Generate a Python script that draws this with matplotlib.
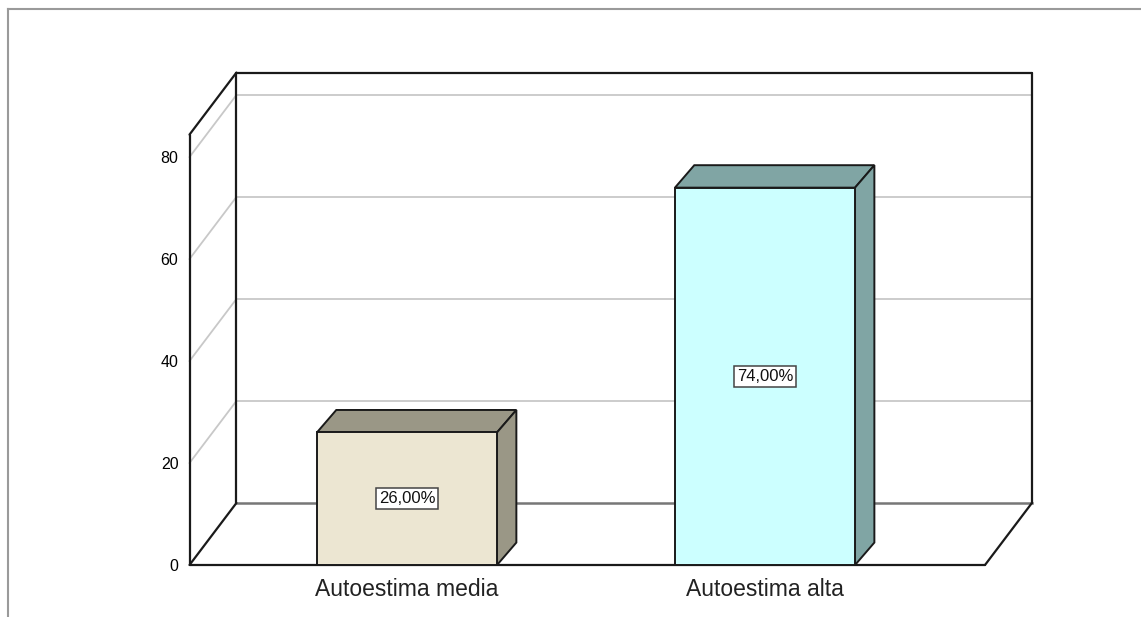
import matplotlib
matplotlib.use("Agg")
import matplotlib.pyplot as plt
from matplotlib.patches import Polygon
from matplotlib.lines import Line2D
from matplotlib import font_manager

# Data
categories = ["Autoestima media", "Autoestima alta"]
percentages = [26.00, 74.00]
y_ticks = [0, 20, 40, 60, 80]

# Styling
front_colors = ["#ECE6D2", "#CCFFFF"]
shade_colors = ["#9A9786", "#80A5A4"]
X_MIN, X_MAX = -0.6075, 1.6145
Y_MAX = 84.4
DEPTH_X, DEPTH_Y = 0.131, 12.16        # depth of the box (data units)
BAR_DX, BAR_DY = 0.054, 4.4            # depth of each bar
BAR_W = 0.503
EDGE = "#1a1a1a"

installed = {f.name for f in font_manager.fontManager.ttflist}
if "Liberation Sans Narrow" in installed:
    label_font, label_size = "Liberation Sans Narrow", 13.5
else:
    label_font, label_size = "Liberation Sans", 12
plt.rcParams["font.family"] = ["Liberation Sans", "DejaVu Sans"]

fig = plt.figure(figsize=(11.41, 6.17), dpi=100)
ax = fig.add_axes([189.5 / 1141, 52 / 617, 795.5 / 1141, 430.4 / 617])
ax.set_xlim(X_MIN, X_MAX)
ax.set_ylim(0, Y_MAX)
for s in ax.spines.values():
    s.set_visible(False)
ax.set_facecolor("none")

# ticks through the axis itself
ax.set_yticks(y_ticks)
ax.set_yticklabels([str(t) for t in y_ticks], fontsize=11.5)
ax.set_xticks(range(len(categories)))
ax.set_xticklabels(categories, fontsize=16.5, color="#222222")
ax.tick_params(axis="y", length=0, pad=8)
ax.tick_params(axis="x", length=0, pad=9)

kw = dict(clip_on=False)
bx0, bx1 = X_MIN + DEPTH_X, X_MAX + DEPTH_X

# gridlines on back wall and left wall
for t in y_ticks[1:]:
    ax.plot([bx0, bx1], [t + DEPTH_Y, t + DEPTH_Y], color="#c8c8c8", lw=1.3, zorder=1, **kw)
    ax.plot([X_MIN, bx0], [t, t + DEPTH_Y], color="#c8c8c8", lw=1.3, zorder=1, **kw)
ax.plot([bx0, bx1], [DEPTH_Y, DEPTH_Y], color="#777777", lw=1.8, zorder=1, **kw)

# box outline
outline = [
    ([bx0, bx1], [Y_MAX + DEPTH_Y] * 2),
    ([bx0, bx0], [DEPTH_Y, Y_MAX + DEPTH_Y]),
    ([bx1, bx1], [DEPTH_Y, Y_MAX + DEPTH_Y]),
    ([X_MIN, X_MIN], [0, Y_MAX]),
    ([X_MIN, bx0], [Y_MAX, Y_MAX + DEPTH_Y]),
    ([X_MIN, bx0], [0, DEPTH_Y]),
    ([X_MIN, X_MAX], [0, 0]),
    ([X_MAX, bx1], [0, DEPTH_Y]),
]
for xs, ys in outline:
    ax.plot(xs, ys, color=EDGE, lw=1.6, zorder=2, solid_capstyle="round", **kw)

# 3D bars
for i, (val, fc, sc) in enumerate(zip(percentages, front_colors, shade_colors)):
    x0, x1 = i - BAR_W / 2, i + BAR_W / 2
    top = Polygon([(x0, val), (x1, val), (x1 + BAR_DX, val + BAR_DY), (x0 + BAR_DX, val + BAR_DY)],
                  closed=True, fc=sc, ec=EDGE, lw=1.4, zorder=4, **kw)
    side = Polygon([(x1, 0), (x1 + BAR_DX, BAR_DY), (x1 + BAR_DX, val + BAR_DY), (x1, val)],
                   closed=True, fc=sc, ec=EDGE, lw=1.4, zorder=4, **kw)
    front = Polygon([(x0, 0), (x1, 0), (x1, val), (x0, val)],
                    closed=True, fc=fc, ec=EDGE, lw=1.4, zorder=5, **kw)
    for p in (top, side, front):
        ax.add_patch(p)
    ax.text(i, val / 2, f"{val:.2f}%".replace(".", ","), ha="center", va="center",
            fontsize=label_size, family=[label_font, "DejaVu Sans"], color="#111111", zorder=6,
            bbox=dict(boxstyle="square,pad=0.17", fc="white", ec="#444444", lw=1.1))

# outer frame of the chart area
fig.add_artist(Line2D([7.5 / 1141, 1], [1 - 8.5 / 617] * 2, color="#9a9a9a", lw=1.5))
fig.add_artist(Line2D([7.5 / 1141] * 2, [0, 1 - 8.5 / 617], color="#9a9a9a", lw=1.5))

fig.savefig("out.png", dpi=100)
